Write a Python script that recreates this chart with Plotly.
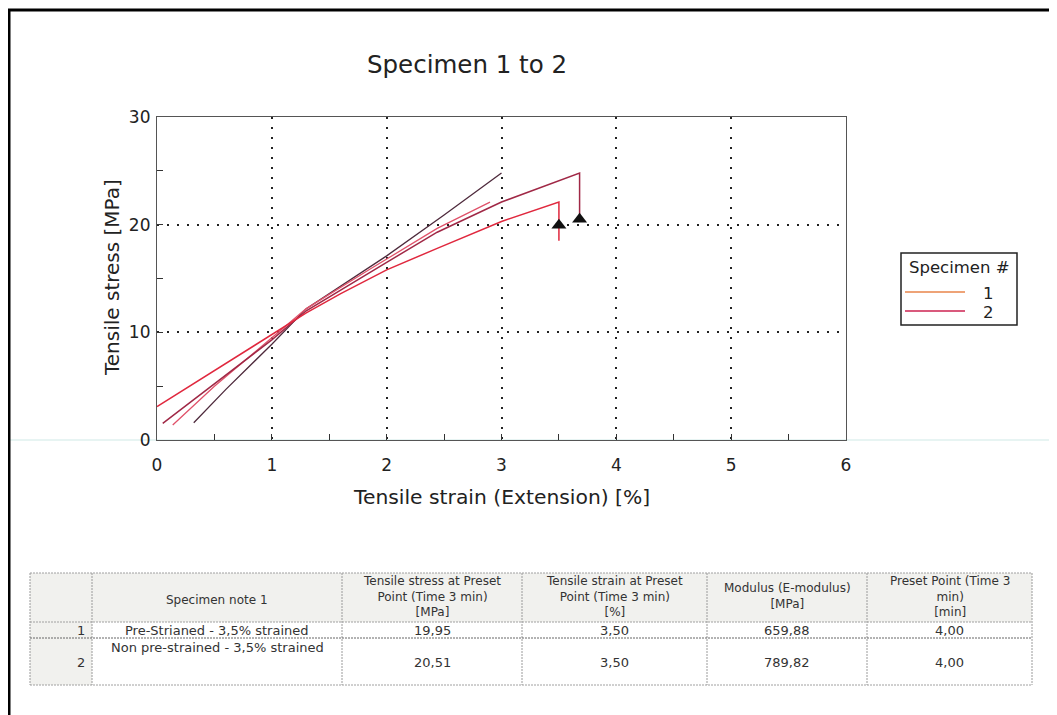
import plotly.graph_objects as go

# ---------------- data ----------------
# Specimen 1 (pre-strained) main curve incl. drop at preset point
strain_s1 = [0.00, 0.50, 1.00, 1.30, 1.60, 2.00, 2.44, 3.00, 3.50, 3.50]
stress_s1 = [3.10, 6.45, 9.80, 11.80, 13.60, 15.80, 17.80, 20.30, 22.10, 18.50]
# Specimen 2 (non pre-strained) main curve incl. drop
strain_s2 = [0.05, 0.50, 1.00, 1.30, 1.70, 2.00, 2.44, 3.00, 3.68, 3.68]
stress_s2 = [1.55, 5.20, 9.30, 12.00, 14.60, 16.50, 19.30, 22.10, 24.80, 20.30]
# additional recorded curves
strain_c3 = [0.32, 0.60, 1.00, 1.30, 2.00, 2.50, 3.00]
stress_c3 = [1.60, 4.70, 8.90, 12.20, 17.10, 20.90, 24.80]
strain_c4 = [0.137, 0.50, 1.00, 1.30, 1.86, 2.44, 2.90]
stress_c4 = [1.40, 5.00, 9.50, 12.20, 15.90, 19.65, 22.10]
# preset points (triangles)
preset_x = [3.50, 3.68]
preset_y = [19.95, 20.51]

specimen_names = ["1", "2"]
legend_colors = ["#e8844a", "#cc2250"]

# table
table_index = ["1", "2"]
specimen_notes = ["Pre-Strianed - 3,5% strained", "Non pre-strained - 3,5% strained"]
stress_preset = ["19,95", "20,51"]
strain_preset = ["3,50", "3,50"]
modulus = ["659,88", "789,82"]
preset_time = ["4,00", "4,00"]
headers = [
    "",
    "Specimen note 1",
    "Tensile stress at Preset<br>Point (Time 3 min)<br>[MPa]",
    "Tensile strain at Preset<br>Point (Time 3 min)<br>[%]",
    "Modulus (E-modulus)<br>[MPa]",
    "Preset Point (Time 3<br>min)<br>[min]",
]

FONT = "DejaVu Sans"
OFF = 8  # page body margin
W, H = 1057 - OFF, 715 - OFF
L, R, T, B = 157, 846, 117, 440  # plot area in page pixels


def xp(px):
    return (px - L) / (R - L)


def yp(py):
    return (B - py) / (B - T)


fig = go.Figure()

fig.add_trace(go.Scatter(x=strain_c3, y=stress_c3, mode="lines",
                         line=dict(color="#4e2a3c", width=1.3), showlegend=False))
fig.add_trace(go.Scatter(x=strain_c4, y=stress_c4, mode="lines",
                         line=dict(color="#e0526a", width=1.3), showlegend=False))
fig.add_trace(go.Scatter(x=strain_s2, y=stress_s2, mode="lines",
                         line=dict(color="#a02846", width=1.5), showlegend=False))
fig.add_trace(go.Scatter(x=strain_s1, y=stress_s1, mode="lines",
                         line=dict(color="#e0283e", width=1.5), showlegend=False))
fig.add_trace(go.Scatter(x=preset_x, y=preset_y, mode="markers",
                         marker=dict(symbol="triangle-up", size=13, color="#111"),
                         showlegend=False))

axis_common = dict(
    showline=True, mirror=True, linecolor="#555", linewidth=1.2,
    ticks="inside", ticklen=6, tickcolor="#333", tickwidth=1.2,
    showgrid=True, gridcolor="#222", gridwidth=2, griddash="2px,8px",
    zeroline=False,
    tickfont=dict(family=FONT, size=17, color="#222"),
)

fig.update_xaxes(range=[0, 6], dtick=1, tick0=0, ticklabelstandoff=9,
                 minor=dict(dtick=0.5, ticks="inside", ticklen=6, tickcolor="#333", showgrid=False),
                 **axis_common)
fig.update_yaxes(range=[0, 30], dtick=10, tick0=0, ticklabelstandoff=2,
                 minor=dict(dtick=5, ticks="inside", ticklen=6, tickcolor="#333", showgrid=False),
                 **axis_common)

shapes = []
annotations = []

# faint scan line at the x axis level
shapes.append(dict(type="line", xref="paper", yref="paper", x0=xp(0), x1=xp(1057), y0=yp(440), y1=yp(440),
                   line=dict(color="#cfe9e6", width=1), layer="below"))
# outer frame (top + left)
shapes.append(dict(type="line", xref="paper", yref="paper", x0=xp(8), x1=xp(1057), y0=yp(10), y1=yp(10),
                   line=dict(color="#000", width=3)))
shapes.append(dict(type="line", xref="paper", yref="paper", x0=xp(9), x1=xp(9), y0=yp(10), y1=yp(715),
                   line=dict(color="#000", width=3)))

# title and axis titles
annotations.append(dict(text="Specimen 1 to 2", xref="paper", yref="paper", x=xp(467), y=yp(65),
                        showarrow=False, xanchor="center", yanchor="middle",
                        font=dict(family=FONT, size=24.5, color="#222")))
annotations.append(dict(text="Tensile strain (Extension) [%]", xref="paper", yref="paper",
                        x=xp(501), y=yp(497), showarrow=False, xanchor="center", yanchor="middle",
                        font=dict(family=FONT, size=20.3, color="#222")))
annotations.append(dict(text="Tensile stress [MPa]", xref="paper", yref="paper",
                        x=xp(112), y=yp(278), showarrow=False, textangle=-90,
                        xanchor="center", yanchor="middle",
                        font=dict(family=FONT, size=20, color="#222")))

# legend (drawn)
shapes.append(dict(type="rect", xref="paper", yref="paper", x0=xp(901), x1=xp(1017), y0=yp(253), y1=yp(325),
                   line=dict(color="#222", width=1.5), fillcolor="white"))
annotations.append(dict(text="Specimen #", xref="paper", yref="paper", x=xp(959), y=yp(267),
                        showarrow=False, xanchor="center", yanchor="middle",
                        font=dict(family=FONT, size=16.5, color="#222")))
leg_y = [292, 311]
for name, col, ly in zip(specimen_names, legend_colors, leg_y):
    shapes.append(dict(type="line", xref="paper", yref="paper", x0=xp(905), x1=xp(965), y0=yp(ly), y1=yp(ly),
                       line=dict(color=col, width=1.5)))
    annotations.append(dict(text=name, xref="paper", yref="paper", x=xp(988), y=yp(ly + 1),
                            showarrow=False, xanchor="center", yanchor="middle",
                            font=dict(family=FONT, size=16.5, color="#222")))

# table
col_edges = [30, 92, 342, 522, 707, 867, 1032]
row_edges = [573, 622, 638, 685]
grey_bg = "#f1f1ee"
shapes.append(dict(type="rect", xref="paper", yref="paper", x0=xp(col_edges[0]), x1=xp(col_edges[-1]),
                   y0=yp(row_edges[0]), y1=yp(row_edges[1]), line=dict(width=0), fillcolor=grey_bg, layer="below"))
shapes.append(dict(type="rect", xref="paper", yref="paper", x0=xp(col_edges[0]), x1=xp(col_edges[1]),
                   y0=yp(row_edges[1]), y1=yp(row_edges[-1]), line=dict(width=0), fillcolor=grey_bg, layer="below"))
for cx in col_edges:
    shapes.append(dict(type="line", xref="paper", yref="paper", x0=xp(cx), x1=xp(cx),
                       y0=yp(row_edges[0]), y1=yp(row_edges[-1]),
                       line=dict(color="#9a9a9a", width=1, dash="2px,1px")))
for i, ry in enumerate(row_edges):
    shapes.append(dict(type="line", xref="paper", yref="paper", x0=xp(col_edges[0]), x1=xp(col_edges[-1]),
                       y0=yp(ry), y1=yp(ry),
                       line=dict(color="#666" if i == 2 else "#a0a0a0", width=1, dash="2px,1px")))

tfont = dict(family=FONT, size=13, color="#333")
hfont = dict(family=FONT, size=12, color="#333")
for ci, txt in enumerate(headers):
    if not txt:
        continue
    cx = (col_edges[ci] + col_edges[ci + 1]) / 2
    cy = 600 if "<br>" not in txt else 596
    annotations.append(dict(text=txt, xref="paper", yref="paper", x=xp(cx), y=yp(cy),
                            showarrow=False, xanchor="center", yanchor="middle", align="center",
                            font=hfont))

row_text_y = [630, 662]
note_y = [630, 647]
for r in range(2):
    annotations.append(dict(text=table_index[r], xref="paper", yref="paper", x=xp(87), y=yp(row_text_y[r]),
                            showarrow=False, xanchor="right", yanchor="middle", font=tfont))
    annotations.append(dict(text=specimen_notes[r], xref="paper", yref="paper",
                            x=xp((col_edges[1] + col_edges[2]) / 2), y=yp(note_y[r]),
                            showarrow=False, xanchor="center", yanchor="middle", font=tfont))
    for ci, vals in zip([2, 3, 4, 5], [stress_preset, strain_preset, modulus, preset_time]):
        annotations.append(dict(text=vals[r], xref="paper", yref="paper",
                                x=xp((col_edges[ci] + col_edges[ci + 1]) / 2), y=yp(row_text_y[r]),
                                showarrow=False, xanchor="center", yanchor="middle", font=tfont))

fig.update_layout(
    width=W, height=H,
    margin=dict(l=L - OFF, r=W - (R - OFF), t=T - OFF, b=H - (B - OFF), autoexpand=False),
    plot_bgcolor="white", paper_bgcolor="white",
    showlegend=False,
    shapes=shapes, annotations=annotations,
    font=dict(family=FONT),
)

fig.write_html("out.html")
